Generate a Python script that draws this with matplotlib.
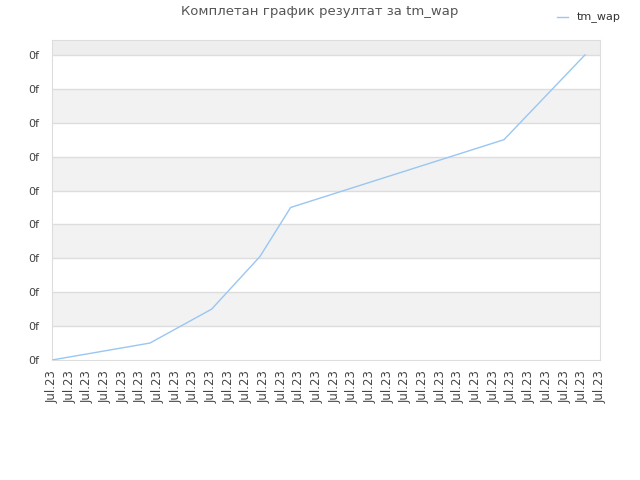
import numpy as np
import matplotlib
matplotlib.use("Agg")
import matplotlib.pyplot as plt

# data (x in tick steps, y in grid steps)
xs = [0.0, 5.54, 9.03, 11.76, 13.5, 25.57, 30.15]
ys = [0.0, 0.5, 1.5, 3.05, 4.5, 6.5, 9.0]
n_ticks = 32
xlabels = ["Jul.23"] * n_ticks
ylabels = ["0f"] * 10
title = "Комплетан график резултат за tm_wap"
series_name = "tm_wap"

plt.rcParams['font.family'] = ['DejaVu Sans']

fig = plt.figure(figsize=(6.4, 4.8), dpi=100)
ax = fig.add_axes([52/640, 1-360/480, 548/640, 320/480])

ymax = 9.44
ax.set_xlim(0, n_ticks - 1)
ax.set_ylim(0, ymax)

# alternating bands
ax.axhspan(9, ymax, color="#eeeeee", zorder=0, lw=0)
for k in range(1, 9, 2):
    ax.axhspan(k, k + 1, color="#f2f2f2", zorder=0, lw=0)
for k in range(1, 10):
    ax.axhline(k, color="#dddddd", lw=1, zorder=1)

ax.plot(xs, ys, color="#99c6f3", lw=1, zorder=3, label=series_name)

ax.set_xticks(np.arange(n_ticks))
ax.set_xticklabels(xlabels, rotation=90, fontsize=8.5, color="#444444")
ax.set_yticks(np.arange(10))
ax.set_yticklabels(ylabels, fontsize=8, color="#444444")
ax.tick_params(axis="x", length=0, pad=7)
ax.tick_params(axis="y", length=0, pad=9)
for s in ax.spines.values():
    s.set_color("#dddddd")

fig.text(0.5, 1-12/480, title, ha="center", va="center", fontsize=9.5, color="#555555")
fig.legend(loc="upper right", bbox_to_anchor=(0.985, 0.995), frameon=False,
           fontsize=8, handlelength=1.0, labelcolor="#333333")

fig.savefig("out.png", dpi=100)
